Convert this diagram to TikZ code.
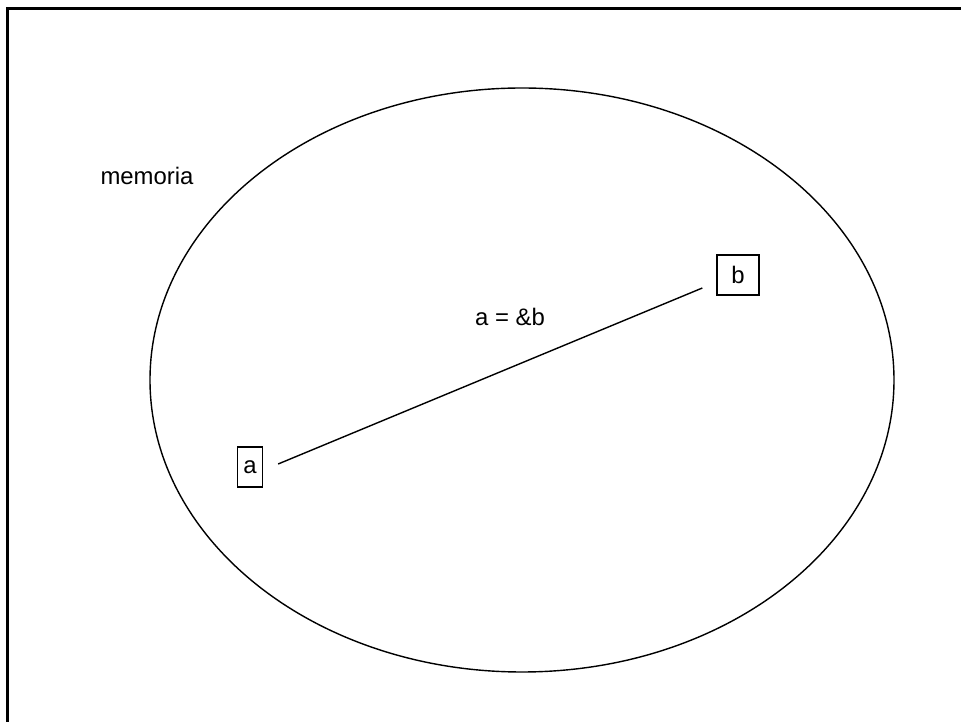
\documentclass[tikz,border=0pt]{standalone}
\usepackage{fontspec}
\setmainfont{Liberation Sans}
\usepackage{tikz}
\usetikzlibrary{calc,positioning}
\tikzset{
  caja/.style={draw=black,line width=0.75pt,inner sep=0pt,minimum height=40*0.02cm},
  texto/.style={anchor=base,inner sep=0pt,font=\fontsize{13.6}{16}\selectfont},
  marco/.style={line width=1.7pt},
  linea/.style={line width=0.8pt}
}

\begin{document}
\begin{tikzpicture}[x=0.02cm,y=-0.02cm]
\useasboundingbox (0,0) rectangle (961,722);
% marco
\draw[marco] (7.5,722) -- (7.5,8.5) -- (961,8.5);
% memoria
\draw[linea] (522,380) ellipse (372 and 292);
\node[texto] (mem) at (147,185) {memoria};
% variables
\node[caja,minimum width=25*0.02cm,texto,anchor=center] (a) at (250,467) {a};
\node[caja,minimum width=42*0.02cm,texto,anchor=center] (b) at (738,275) {b};
\coordinate (pa) at ($(a.east)+(15,-3)$);
\coordinate (pb) at ($(b.west)+(-14,13)$);
\draw[linea] (pa) -- (pb);
\node[texto] (asig) at (510,325.7) {a = \&b};
\end{tikzpicture}
\end{document}
